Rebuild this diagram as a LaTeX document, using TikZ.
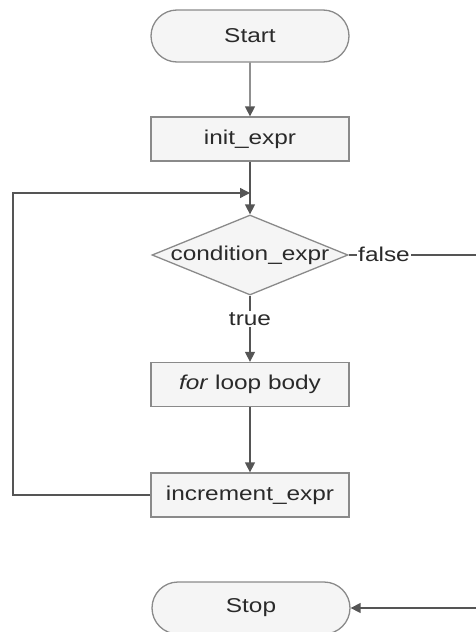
\documentclass[tikz,border=0pt]{standalone}
\usepackage{fontspec}
\setmainfont{Liberation Sans}[FakeStretch=1.22]
\usetikzlibrary{shapes.geometric,shapes.misc,arrows.meta}
\definecolor{linec}{HTML}{555555}
\definecolor{boxc}{HTML}{8A8A8A}
\definecolor{fillc}{HTML}{F5F5F5}
\definecolor{textc}{HTML}{2A2A2A}
\begin{document}
\begin{tikzpicture}[x=1pt,y=-1pt,
  font=\fontsize{20pt}{23pt}\selectfont, text=textc,
  base/.style={draw=boxc, fill=fillc, line width=1.3pt, inner sep=0pt},
  box/.style={base, rectangle, minimum width=198pt, minimum height=44pt},
  term/.style={base, rounded rectangle, minimum width=198pt, minimum height=52pt},
  cond/.style={base, diamond, minimum width=196pt, minimum height=80pt},
  conn/.style={draw=linec, line width=1.4pt},
  arr/.style={conn, -{Triangle[length=10pt,width=10pt]}},
  lbl/.style={fill=white, inner sep=1.5pt}
]
\useasboundingbox (0,0) rectangle (475,632);
\node[term] (start) at (250,36) {Start};
\node[box] (init) at (250,139) {init\_expr};
\node[cond] (cond) at (250,255) {\makebox[0pt]{condition\_expr}};
\node[box] (body) at (250,384.5) {\textit{for} loop body};
\node[box] (inc) at (250,495) {increment\_expr};
\node[term] (stop) at (251,608) {Stop};
\coordinate (join) at (250,193);
\coordinate (loopL) at (13,193);
\coordinate (farR) at (480,255);
\draw[arr] (start) -- (init);
\draw[arr] (init) -- (cond);
\draw[arr] (inc.west) -- (loopL |- inc.west) -- (loopL) -- (join);
\draw[conn] (cond.south) -- (250,332);
\node[lbl] (true) at (250,319) {true};
\draw[arr] (true.south) -- (body);
\draw[arr] (body) -- (inc);
\draw[arr] (cond.east) -- (farR) |- (stop.east);
\node[lbl] (false) at (384,254) {false};
\end{tikzpicture}
\end{document}
